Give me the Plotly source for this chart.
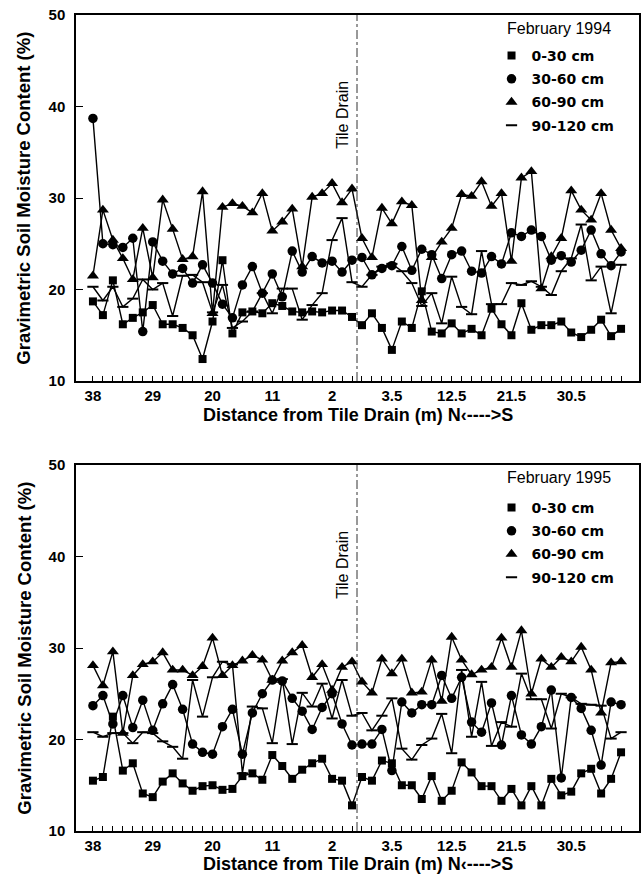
import plotly.graph_objects as go

# ---------------- data ----------------
north_m = [38, 36.5, 35, 33.5, 32, 30.5, 29, 27.5, 26, 24.5, 23, 21.5, 20, 18.5,
           17, 15.5, 14, 12.5, 11, 9.5, 8, 6.5, 5, 3.5, 2, 0.5, 0]
south_m = [0, 0.5, 2, 3.5, 5, 6.5, 8, 9.5, 11, 12.5, 14, 15.5, 17, 18.5,
           20, 21.5, 23, 24.5, 26, 27.5, 29, 30.5, 32, 33.5, 35, 36.5, 38]
positions = [f"N{v:g}" for v in north_m] + [f"S{v:g}" for v in south_m]

tick_positions = ["N38", "N29", "N20", "N11", "N2", "S3.5", "S12.5", "S21.5", "S30.5"]
tick_text = ["38", "29", "20", "11", "2", "3.5", "12.5", "21.5", "30.5"]

depths = ["0-30 cm", "30-60 cm", "60-90 cm", "90-120 cm"]

feb94_0_30 = [18.7, 17.2, 21.0, 16.2, 16.9, 17.5, 18.3, 16.2, 16.2, 15.8,
              15.0, 12.4, 16.5, 23.2, 15.2, 17.5, 17.6, 17.4, 18.5, 18.2,
              17.6, 17.5, 17.6, 17.5, 17.7, 17.7, 17.0, 16.1, 17.4, 15.8,
              13.4, 16.5, 15.8, 19.8, 15.4, 15.2, 16.3, 15.2, 15.7, 15.0,
              17.9, 16.2, 15.0, 18.5, 15.6, 16.1, 16.1, 16.5, 15.3, 14.8,
              15.6, 16.7, 14.9, 15.7]
feb94_30_60 = [38.7, 25.0, 24.9, 24.6, 25.6, 15.4, 25.2, 23.1, 21.7, 22.3,
               20.7, 22.7, 20.7, 18.4, 16.9, 20.5, 22.5, 19.6, 21.7, 19.2,
               24.2, 21.9, 23.6, 22.9, 23.1, 21.9, 23.2, 23.5, 21.6, 22.3,
               22.6, 24.7, 22.1, 24.4, 23.8, 21.2, 23.8, 24.2, 22.0, 21.8,
               23.6, 22.8, 26.2, 25.8, 26.5, 25.8, 23.2, 23.7, 23.0, 24.3,
               26.5, 23.9, 22.6, 24.1]
feb94_60_90 = [21.5, 28.7, 25.4, 23.4, 21.1, 26.7, 21.3, 29.8, 26.6, 23.3,
               23.6, 30.7, 17.4, 29.0, 29.4, 29.1, 28.4, 30.5, 26.4, 27.4,
               28.8, 22.5, 30.1, 30.5, 31.6, 29.5, 31.0, 25.6, 23.5, 28.9,
               27.2, 29.6, 29.2, 18.8, 23.5, 25.2, 26.7, 30.4, 30.2, 31.8,
               29.1, 30.5, 23.1, 32.2, 32.9, 20.1, 23.6, 25.6, 30.8, 28.7,
               27.6, 30.5, 26.5, 24.5]
feb94_90_120 = [20.3, 18.8, 20.3, 18.1, 19.0, 21.1, 20.0, 20.7, 17.1, 21.5,
                21.6, 20.8, 17.5, 20.5, 15.8, 16.5, 17.6, 19.6, 17.4, 20.1,
                20.1, 16.7, 18.3, 19.6, 25.4, 27.8, 20.8, 20.3, 21.6, 22.5,
                22.8, 22.0, 20.7, 18.2, 19.6, 16.3, 21.4, 18.1, 17.3, 24.2,
                18.4, 18.4, 20.7, 20.5, 20.9, 20.3, 19.4, 22.0, 23.4, 27.1,
                21.0, 22.5, 17.4, 22.7]

feb95_0_30 = [15.5, 15.9, 22.5, 16.6, 17.4, 14.1, 13.7, 15.4, 16.3, 15.2,
              14.4, 14.9, 15.0, 14.5, 14.6, 16.0, 16.3, 15.6, 18.3, 17.1,
              15.7, 16.7, 17.4, 17.9, 15.7, 15.5, 12.8, 15.9, 15.5, 17.7,
              17.4, 15.0, 15.0, 13.5, 16.0, 13.3, 14.4, 17.5, 16.4, 14.9,
              14.9, 13.3, 14.6, 12.8, 14.9, 12.8, 15.7, 13.9, 14.3, 16.3,
              16.8, 14.1, 15.7, 18.6]
feb95_30_60 = [23.7, 24.8, 21.7, 24.8, 21.3, 24.3, 21.0, 23.9, 26.0, 23.3,
               19.5, 18.6, 18.4, 21.4, 23.3, 18.4, 22.9, 25.0, 26.5, 26.4,
               24.5, 23.1, 21.1, 23.5, 25.0, 21.7, 19.4, 19.5, 19.5, 21.1,
               16.6, 24.1, 22.9, 23.8, 23.8, 27.0, 24.5, 26.8, 21.9, 20.8,
               24.0, 19.4, 24.8, 20.5, 19.5, 21.4, 25.4, 15.8, 24.6, 23.4,
               21.0, 17.2, 24.1, 23.8]
feb95_60_90 = [28.1, 25.9, 29.6, 20.7, 27.0, 28.2, 28.5, 29.5, 27.6, 27.6,
               27.0, 28.0, 31.1, 27.0, 28.1, 28.6, 29.2, 28.7, 26.5, 28.6,
               29.5, 30.3, 26.8, 28.2, 25.4, 27.9, 28.5, 26.3, 25.1, 28.8,
               27.2, 28.8, 25.1, 25.2, 28.7, 24.2, 31.2, 28.7, 27.1, 27.6,
               27.9, 31.1, 27.9, 31.9, 25.0, 28.8, 27.9, 29.0, 28.5, 30.1,
               27.6, 22.9, 28.4, 28.5]
feb95_90_120 = [20.8, 20.3, 20.7, 20.7, 19.6, 20.8, 20.7, 19.8, 19.2, 17.9,
                26.5, 22.5, 26.8, 28.5, 28.2, 16.3, 23.6, 23.4, 19.6, 26.6,
                19.5, 25.1, 23.6, 26.1, 22.3, 26.5, 22.6, 22.9, 21.0, 22.6,
                24.5, 19.0, 17.8, 19.4, 20.1, 22.8, 18.5, 27.6, 20.3, 26.3,
                19.3, 21.9, 21.4, 27.2, 24.4, 24.4, 21.2, 25.0, 24.6, 23.9,
                23.8, 23.7, 20.1, 20.8]

panels = [
    ("February 1994", [feb94_0_30, feb94_30_60, feb94_60_90, feb94_90_120]),
    ("February 1995", [feb95_0_30, feb95_30_60, feb95_60_90, feb95_90_120]),
]

# ---------------- styling ----------------
W, H = 642, 875
ML, MR, MT, MB = 76, 1, 15, 44
PH = H - MT - MB
PW = W - ML - MR


def py2paper(py):
    return (H - MB - py) / PH


def px2paper(px):
    return (px - ML) / PW


FONT = "Liberation Sans, Arial, sans-serif"
markers = [
    dict(symbol="square", size=8, color="black"),
    dict(symbol="circle", size=9.5, color="black"),
    dict(symbol="triangle-up", size=10.5, color="black"),
    dict(symbol="line-ew", size=8, color="black", line=dict(color="black", width=2)),
]

x_idx = list(range(len(positions)))
tickvals = [positions.index(p) for p in tick_positions]
drain_x = (positions.index("N0") + positions.index("S0")) / 2

fig = go.Figure()

domains = [(py2paper(381), 1.0), (0.0, py2paper(465))]
legend_names = ["legend", "legend2"]

for k, (label, series) in enumerate(panels):
    xa = "x" if k == 0 else "x2"
    ya = "y" if k == 0 else "y2"
    for d, (name, vals) in enumerate(zip(depths, series)):
        fig.add_trace(go.Scatter(
            x=x_idx, y=vals, mode="lines+markers", name=name,
            line=dict(color="black", width=1.4),
            marker=markers[d], xaxis=xa, yaxis=ya, showlegend=False,
            cliponaxis=False,
        ))
    for d, name in enumerate(depths):
        fig.add_trace(go.Scatter(
            x=[None], y=[None], mode="markers", name=name,
            marker=markers[d], xaxis=xa, yaxis=ya,
            legend=legend_names[k], legendgroup=f"{k}-{d}", showlegend=True,
        ))

axis_common_x = dict(
    range=[-1.7, 54.8], tickmode="array", tickvals=tickvals, ticktext=tick_text,
    ticks="inside", ticklen=5, tickwidth=1, tickcolor="black",
    showline=True, linecolor="black", linewidth=1.5, mirror=True,
    showgrid=False, zeroline=False,
    tickfont=dict(family=FONT, size=15, color="black", weight="bold"),
    minor=dict(tickmode="array", tickvals=x_idx, ticks="inside", ticklen=5,
               tickwidth=1, tickcolor="black", showgrid=False),
)
axis_common_y = dict(
    range=[10, 50], tickmode="linear", tick0=10, dtick=10,
    ticks="inside", ticklen=7, tickwidth=1, tickcolor="black",
    showline=True, linecolor="black", linewidth=1.5, mirror=True,
    showgrid=False, zeroline=False, ticklabelstandoff=6,
    tickfont=dict(family=FONT, size=15, color="black", weight="bold"),
)

fig.update_layout(
    width=W, height=H,
    margin=dict(l=ML, r=MR, t=MT, b=MB, pad=0),
    paper_bgcolor="white", plot_bgcolor="white",
    xaxis=dict(domain=[0, 1], anchor="y", **axis_common_x),
    yaxis=dict(domain=list(domains[0]), anchor="x", **axis_common_y),
    xaxis2=dict(domain=[0, 1], anchor="y2", **axis_common_x),
    yaxis2=dict(domain=list(domains[1]), anchor="x2", **axis_common_y),
)

legend_common = dict(
    xanchor="left", yanchor="top", bgcolor="rgba(0,0,0,0)", borderwidth=0,
    font=dict(family="DejaVu Sans, sans-serif", size=14, color="black", weight="bold"),
    itemwidth=30, tracegroupgap=2, itemclick=False, itemdoubleclick=False,
)
fig.update_layout(
    legend=dict(x=px2paper(493), y=py2paper(40), **legend_common),
    legend2=dict(x=px2paper(493), y=py2paper(492), **legend_common),
)

annotations = []
title_y = [py2paper(415), py2paper(864)]
month_y = [py2paper(28), py2paper(477)]
for k, (label, _) in enumerate(panels):
    ya = "y" if k == 0 else "y2"
    xa = "x" if k == 0 else "x2"
    annotations.append(dict(
        text="Gravimetric Soil Moisture Content (%)", textangle=-90,
        xref="paper", yref="paper", x=px2paper(23.5),
        y=sum(domains[k]) / 2, xanchor="center", yanchor="middle", showarrow=False,
        font=dict(family=FONT, size=18.5, color="black", weight="bold"),
    ))
    annotations.append(dict(
        text="Distance from Tile Drain (m) N‹---->S",
        xref="paper", yref="paper", x=0.5, y=title_y[k],
        xanchor="center", yanchor="middle", showarrow=False,
        font=dict(family=FONT, size=18, color="black", weight="bold"),
    ))
    annotations.append(dict(
        text=label, xref="paper", yref="paper", x=px2paper(507), y=month_y[k],
        xanchor="left", yanchor="middle", showarrow=False,
        font=dict(family=FONT, size=16, color="black"),
    ))
    annotations.append(dict(
        text="Tile Drain", textangle=-90, xref=xa, yref=ya,
        x=drain_x, y=39.1, xshift=-14, xanchor="center", yanchor="middle",
        showarrow=False, font=dict(family=FONT, size=16, color="black"),
    ))
    fig.add_shape(type="line", xref=xa, yref=ya, x0=drain_x, x1=drain_x,
                  y0=10, y1=50, line=dict(color="#333333", width=1, dash="dashdot"))

fig.update_layout(annotations=annotations)

fig.write_html("out.html", config={"displayModeBar": False},
               post_script="document.body.style.margin='0px';")
